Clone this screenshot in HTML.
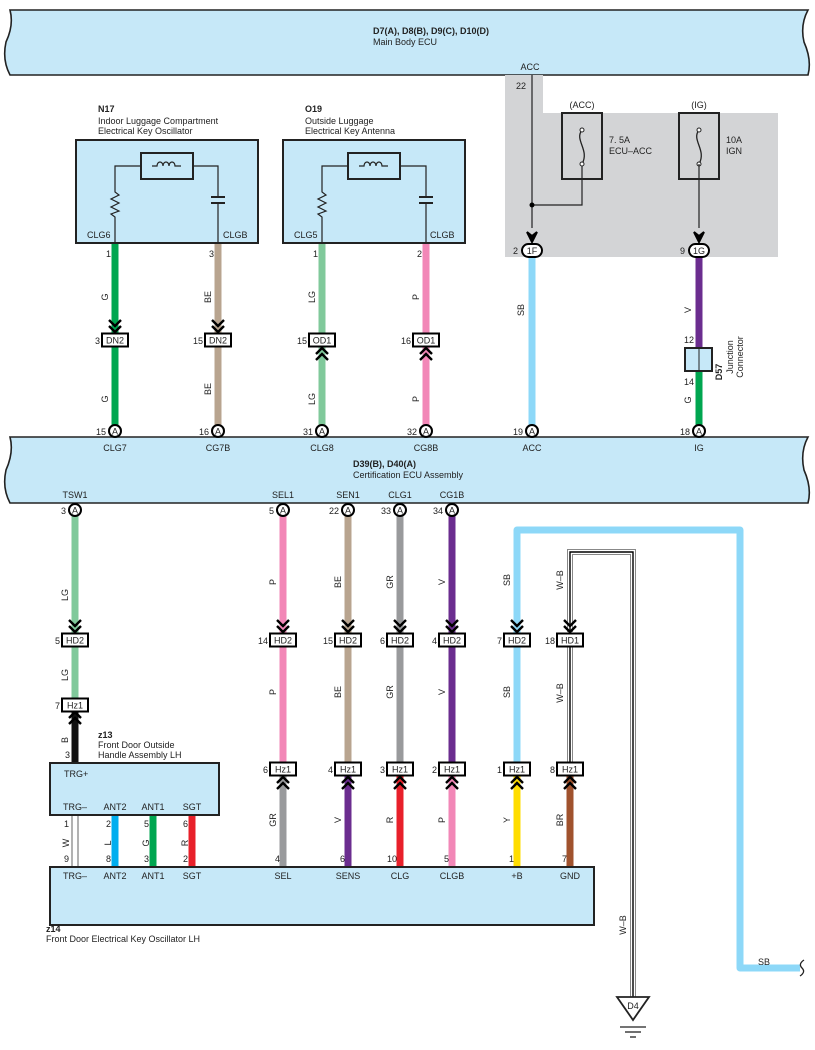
<!DOCTYPE html>
<html><head><meta charset="utf-8"><style>
html,body{margin:0;padding:0;background:#fff}
svg{display:block}
text{font-family:"Liberation Sans",sans-serif;font-size:9px;fill:#222}
.b{font-weight:bold}
.m{text-anchor:middle}
.e{text-anchor:end}
</style></head><body>
<svg width="815" height="1050" viewBox="0 0 815 1050" xmlns="http://www.w3.org/2000/svg">
<defs>
<g id="cd"><polyline points="-6,-13 0,-7 6,-13" fill="none" stroke="#000" stroke-width="2.4"/><polyline points="-6,-7 0,-1 6,-7" fill="none" stroke="#000" stroke-width="2.4"/></g>
<g id="cu"><polyline points="-6,13 0,7 6,13" fill="none" stroke="#000" stroke-width="2.4"/><polyline points="-6,7 0,1 6,7" fill="none" stroke="#000" stroke-width="2.4"/></g>
<g id="ca"><circle r="6" fill="#fff" stroke="#000" stroke-width="2"/></g>
<g id="bx"><rect x="-13" y="-6.5" width="26" height="13" fill="#fff" stroke="#000" stroke-width="2"/></g>
</defs>

<!-- top bus -->
<path d="M10,10 L808,10 Q800,25 804,42 Q812,60 808,75 L10,75 Q2,60 6,42 Q14,25 10,10 Z" fill="#c6e8f8" stroke="#222" stroke-width="1.6"/>
<text x="373" y="34" class="b">D7(A), D8(B), D9(C), D10(D)</text>
<text x="373" y="45">Main Body ECU</text>
<text x="530" y="70" class="m">ACC</text>

<!-- gray area -->
<path d="M505,75 L543,75 L543,113 L778,113 L778,257 L505,257 Z" fill="#d3d4d6"/>
<text x="526" y="89" class="e">22</text>
<polyline points="532,75 532,228" fill="none" stroke="#222" stroke-width="1.2"/>
<polyline points="532,205 582,205 582,165" fill="none" stroke="#222" stroke-width="1.2"/>
<circle cx="532" cy="205" r="2.5" fill="#000"/>
<path d="M527,232 L532,242 L537,232 L532,236 Z" fill="#000" stroke="#000" stroke-width="2"/>
<rect x="562" y="113" width="40" height="66" fill="none" stroke="#222" stroke-width="2"/>
<path d="M582,130 C574,140 590,150 582,164" fill="none" stroke="#222" stroke-width="1.3"/>
<circle cx="582" cy="130" r="2" fill="#fff" stroke="#222"/><circle cx="582" cy="164" r="2" fill="#fff" stroke="#222"/>
<text x="582" y="108" class="m">(ACC)</text>
<text x="609" y="143">7. 5A</text><text x="609" y="154">ECU–ACC</text>
<rect x="679" y="113" width="40" height="66" fill="none" stroke="#222" stroke-width="2"/>
<path d="M699,130 C691,140 707,150 699,164" fill="none" stroke="#222" stroke-width="1.3"/>
<circle cx="699" cy="130" r="2" fill="#fff" stroke="#222"/><circle cx="699" cy="164" r="2" fill="#fff" stroke="#222"/>
<polyline points="699,164 699,228" fill="none" stroke="#222" stroke-width="1.2"/>
<path d="M694,232 L699,242 L704,232 L699,236 Z" fill="#000" stroke="#000" stroke-width="2"/>
<text x="699" y="108" class="m">(IG)</text>
<text x="726" y="143">10A</text><text x="726" y="154">IGN</text>
<!-- 1F/1G connectors -->
<line x1="532" y1="257" x2="532" y2="428" stroke="#8dd8f8" stroke-width="7"/>
<line x1="699" y1="257" x2="699" y2="350" stroke="#6b2d8f" stroke-width="7"/>
<line x1="699" y1="370" x2="699" y2="428" stroke="#00a650" stroke-width="7"/>
<rect x="522" y="244" width="20" height="13" rx="6.5" fill="#fff" stroke="#000" stroke-width="2"/>
<text x="532" y="254" class="m">1F</text><text x="518" y="254" class="e">2</text>
<rect x="689" y="244" width="20" height="13" rx="6.5" fill="#fff" stroke="#000" stroke-width="2"/>
<text x="699" y="254" class="m">1G</text><text x="685" y="254" class="e">9</text>
<text transform="translate(524,310) rotate(-90)" class="m">SB</text>
<text transform="translate(691,310) rotate(-90)" class="m">V</text>
<text x="694" y="343" class="e">12</text>
<rect x="685" y="348" width="27" height="23" fill="#c6e8f8" stroke="#222" stroke-width="2"/>
<line x1="699" y1="348" x2="699" y2="371" stroke="#222"/>
<text x="694" y="385" class="e">14</text>
<text transform="translate(691,400) rotate(-90)" class="m">G</text>
<text transform="translate(722,372) rotate(-90)" class="m b">D57</text>
<text transform="translate(733,357) rotate(-90)" class="m">Junction</text>
<text transform="translate(743,357) rotate(-90)" class="m">Connector</text>

<!-- N17 -->
<text x="98" y="112" class="b">N17</text>
<text x="98" y="124">Indoor Luggage Compartment</text>
<text x="98" y="134">Electrical Key Oscillator</text>
<rect x="76" y="140" width="182" height="103" fill="#c6e8f8" stroke="#222" stroke-width="2"/>
<rect x="141" y="153" width="52" height="26" fill="none" stroke="#222" stroke-width="2"/>
<path d="M152,166 h5 a3,4 0 1 1 6,0 a3,4 0 1 1 6,0 a3,4 0 1 1 6,0 h6" fill="none" stroke="#222" stroke-width="1.2"/>
<polyline points="141,166 115,166 115,192 119,195 111,199 119,203 111,207 119,211 111,214 115,217 115,243" fill="none" stroke="#222" stroke-width="1.2"/>
<polyline points="193,166 218,166 218,197" fill="none" stroke="#222" stroke-width="1.2"/>
<line x1="211" y1="197" x2="225" y2="197" stroke="#222" stroke-width="2"/><line x1="211" y1="203" x2="225" y2="203" stroke="#222" stroke-width="2"/>
<line x1="218" y1="203" x2="218" y2="243" stroke="#222" stroke-width="1.2"/>
<text x="87" y="238">CLG6</text><text x="223" y="238">CLGB</text>
<!-- O19 -->
<text x="305" y="112" class="b">O19</text>
<text x="305" y="124">Outside Luggage</text>
<text x="305" y="134">Electrical Key Antenna</text>
<rect x="283" y="140" width="182" height="103" fill="#c6e8f8" stroke="#222" stroke-width="2"/>
<rect x="348" y="153" width="52" height="26" fill="none" stroke="#222" stroke-width="2"/>
<path d="M359,166 h5 a3,4 0 1 1 6,0 a3,4 0 1 1 6,0 a3,4 0 1 1 6,0 h6" fill="none" stroke="#222" stroke-width="1.2"/>
<polyline points="348,166 322,166 322,192 326,195 318,199 326,203 318,207 326,211 318,214 322,217 322,243" fill="none" stroke="#222" stroke-width="1.2"/>
<polyline points="400,166 426,166 426,197" fill="none" stroke="#222" stroke-width="1.2"/>
<line x1="419" y1="197" x2="433" y2="197" stroke="#222" stroke-width="2"/><line x1="419" y1="203" x2="433" y2="203" stroke="#222" stroke-width="2"/>
<line x1="426" y1="203" x2="426" y2="243" stroke="#222" stroke-width="1.2"/>
<text x="294" y="238">CLG5</text><text x="430" y="238">CLGB</text>

<!-- top wires -->
<line x1="115" y1="244" x2="115" y2="428" stroke="#00a650" stroke-width="7"/>
<line x1="218" y1="244" x2="218" y2="428" stroke="#b8a48f" stroke-width="7"/>
<line x1="322" y1="244" x2="322" y2="428" stroke="#80c99b" stroke-width="7"/>
<line x1="426" y1="244" x2="426" y2="428" stroke="#f287b7" stroke-width="7"/>
<text x="111" y="257" class="e">1</text><text x="214" y="257" class="e">3</text><text x="318" y="257" class="e">1</text><text x="422" y="257" class="e">2</text>
<text transform="translate(108,297) rotate(-90)" class="m">G</text>
<text transform="translate(211,297) rotate(-90)" class="m">BE</text>
<text transform="translate(315,297) rotate(-90)" class="m">LG</text>
<text transform="translate(419,297) rotate(-90)" class="m">P</text>
<text transform="translate(108,399) rotate(-90)" class="m">G</text>
<text transform="translate(211,389) rotate(-90)" class="m">BE</text>
<text transform="translate(315,399) rotate(-90)" class="m">LG</text>
<text transform="translate(419,399) rotate(-90)" class="m">P</text>
<use href="#cd" x="115" y="333"/><use href="#cd" x="218" y="333"/>
<use href="#cu" x="322" y="347"/><use href="#cu" x="426" y="347"/>
<use href="#bx" x="115" y="340"/><text x="115" y="343.5" class="m">DN2</text><text x="100" y="344" class="e">3</text>
<use href="#bx" x="218" y="340"/><text x="218" y="343.5" class="m">DN2</text><text x="203" y="344" class="e">15</text>
<use href="#bx" x="322" y="340"/><text x="322" y="343.5" class="m">OD1</text><text x="307" y="344" class="e">15</text>
<use href="#bx" x="426" y="340"/><text x="426" y="343.5" class="m">OD1</text><text x="411" y="344" class="e">16</text>

<!-- bus 2 -->
<path d="M10,437 L808,437 Q800,452 804,470 Q812,488 808,503 L10,503 Q2,488 6,470 Q14,452 10,437 Z" fill="#c6e8f8" stroke="#222" stroke-width="1.6"/>
<use href="#ca" x="115" y="431"/><text x="115" y="434.5" class="m">A</text><text x="106" y="435" class="e">15</text>
<use href="#ca" x="218" y="431"/><text x="218" y="434.5" class="m">A</text><text x="209" y="435" class="e">16</text>
<use href="#ca" x="322" y="431"/><text x="322" y="434.5" class="m">A</text><text x="313" y="435" class="e">31</text>
<use href="#ca" x="426" y="431"/><text x="426" y="434.5" class="m">A</text><text x="417" y="435" class="e">32</text>
<use href="#ca" x="532" y="431"/><text x="532" y="434.5" class="m">A</text><text x="523" y="435" class="e">19</text>
<use href="#ca" x="699" y="431"/><text x="699" y="434.5" class="m">A</text><text x="690" y="435" class="e">18</text>
<text x="115" y="451" class="m">CLG7</text><text x="218" y="451" class="m">CG7B</text><text x="322" y="451" class="m">CLG8</text><text x="426" y="451" class="m">CG8B</text><text x="532" y="451" class="m">ACC</text><text x="699" y="451" class="m">IG</text>
<text x="353" y="467" class="b">D39(B), D40(A)</text>
<text x="353" y="478">Certification ECU Assembly</text>
<text x="75" y="498" class="m">TSW1</text><text x="283" y="498" class="m">SEL1</text><text x="348" y="498" class="m">SEN1</text><text x="400" y="498" class="m">CLG1</text><text x="452" y="498" class="m">CG1B</text>

<!-- SB loop and W-B -->
<polyline points="517,632 517,530 740,530 740,968 800,968" fill="none" stroke="#8dd8f8" stroke-width="7" stroke-linejoin="round"/>
<path d="M804,960 Q798,964 802,968 Q806,972 800,976" fill="none" stroke="#222" stroke-width="1.3"/>
<text x="764" y="965" class="m">SB</text>
<polyline points="570,632 570,552 633,552 633,997" fill="none" stroke="#888" stroke-width="6"/>
<polyline points="570,632 570,552 633,552 633,997" fill="none" stroke="#fff" stroke-width="4"/>
<polyline points="570,632 570,552 633,552 633,997" fill="none" stroke="#000" stroke-width="1.4"/>
<line x1="570" y1="646" x2="570" y2="762" stroke="#888" stroke-width="6"/>
<line x1="570" y1="646" x2="570" y2="762" stroke="#fff" stroke-width="4"/>
<line x1="570" y1="646" x2="570" y2="762" stroke="#000" stroke-width="1.4"/>
<text transform="translate(563,580) rotate(-90)" class="m">W–B</text>
<text transform="translate(563,693) rotate(-90)" class="m">W–B</text>
<text transform="translate(626,925) rotate(-90)" class="m">W–B</text>
<text transform="translate(510,580) rotate(-90)" class="m">SB</text>
<polygon points="617,997 649,997 633,1020" fill="#fff" stroke="#222" stroke-width="1.8"/>
<text x="633" y="1009" class="m">D4</text>
<line x1="620" y1="1027" x2="646" y2="1027" stroke="#222" stroke-width="1.3"/>
<line x1="625" y1="1032" x2="641" y2="1032" stroke="#222" stroke-width="1.3"/>
<line x1="630" y1="1037" x2="636" y2="1037" stroke="#222" stroke-width="1.3"/>

<!-- lower wires upper segment -->
<line x1="75" y1="516" x2="75" y2="698" stroke="#80c99b" stroke-width="7"/>
<line x1="283" y1="516" x2="283" y2="762" stroke="#f287b7" stroke-width="7"/>
<line x1="348" y1="516" x2="348" y2="762" stroke="#b8a48f" stroke-width="7"/>
<line x1="400" y1="516" x2="400" y2="762" stroke="#999a9c" stroke-width="7"/>
<line x1="452" y1="516" x2="452" y2="762" stroke="#6b2d8f" stroke-width="7"/>
<line x1="517" y1="632" x2="517" y2="762" stroke="#8dd8f8" stroke-width="7"/>
<line x1="75" y1="710" x2="75" y2="763" stroke="#111" stroke-width="7"/>
<use href="#ca" x="75" y="510"/><text x="75" y="513.5" class="m">A</text><text x="66" y="514" class="e">3</text>
<use href="#ca" x="283" y="510"/><text x="283" y="513.5" class="m">A</text><text x="274" y="514" class="e">5</text>
<use href="#ca" x="348" y="510"/><text x="348" y="513.5" class="m">A</text><text x="339" y="514" class="e">22</text>
<use href="#ca" x="400" y="510"/><text x="400" y="513.5" class="m">A</text><text x="391" y="514" class="e">33</text>
<use href="#ca" x="452" y="510"/><text x="452" y="513.5" class="m">A</text><text x="443" y="514" class="e">34</text>
<text transform="translate(68,595) rotate(-90)" class="m">LG</text>
<text transform="translate(276,582) rotate(-90)" class="m">P</text>
<text transform="translate(341,582) rotate(-90)" class="m">BE</text>
<text transform="translate(393,582) rotate(-90)" class="m">GR</text>
<text transform="translate(445,582) rotate(-90)" class="m">V</text>
<text transform="translate(68,675) rotate(-90)" class="m">LG</text>
<text transform="translate(276,692) rotate(-90)" class="m">P</text>
<text transform="translate(341,692) rotate(-90)" class="m">BE</text>
<text transform="translate(393,692) rotate(-90)" class="m">GR</text>
<text transform="translate(445,692) rotate(-90)" class="m">V</text>
<text transform="translate(510,692) rotate(-90)" class="m">SB</text>
<text transform="translate(68,740) rotate(-90)" class="m">B</text>
<text x="70" y="758" class="e">3</text>
<!-- HD connectors -->
<use href="#cd" x="75" y="633"/><use href="#cd" x="283" y="633"/><use href="#cd" x="348" y="633"/><use href="#cd" x="400" y="633"/><use href="#cd" x="452" y="633"/><use href="#cd" x="517" y="633"/><use href="#cd" x="570" y="633"/>
<use href="#bx" x="75" y="640"/><text x="75" y="643.5" class="m">HD2</text><text x="60" y="644" class="e">5</text>
<use href="#bx" x="283" y="640"/><text x="283" y="643.5" class="m">HD2</text><text x="268" y="644" class="e">14</text>
<use href="#bx" x="348" y="640"/><text x="348" y="643.5" class="m">HD2</text><text x="333" y="644" class="e">15</text>
<use href="#bx" x="400" y="640"/><text x="400" y="643.5" class="m">HD2</text><text x="385" y="644" class="e">6</text>
<use href="#bx" x="452" y="640"/><text x="452" y="643.5" class="m">HD2</text><text x="437" y="644" class="e">4</text>
<use href="#bx" x="517" y="640"/><text x="517" y="643.5" class="m">HD2</text><text x="502" y="644" class="e">7</text>
<use href="#bx" x="570" y="640"/><text x="570" y="643.5" class="m">HD1</text><text x="555" y="644" class="e">18</text>
<!-- lower segment -->
<line x1="283" y1="776" x2="283" y2="867" stroke="#999a9c" stroke-width="7"/>
<line x1="348" y1="776" x2="348" y2="867" stroke="#6b2d8f" stroke-width="7"/>
<line x1="400" y1="776" x2="400" y2="867" stroke="#e8202a" stroke-width="7"/>
<line x1="452" y1="776" x2="452" y2="867" stroke="#f287b7" stroke-width="7"/>
<line x1="517" y1="776" x2="517" y2="867" stroke="#ffdd00" stroke-width="7"/>
<line x1="570" y1="776" x2="570" y2="867" stroke="#a0522d" stroke-width="7"/>
<use href="#cu" x="75" y="711"/><use href="#cu" x="283" y="776"/><use href="#cu" x="348" y="776"/><use href="#cu" x="400" y="776"/><use href="#cu" x="452" y="776"/><use href="#cu" x="517" y="776"/><use href="#cu" x="570" y="776"/>
<use href="#bx" x="75" y="705"/><text x="75" y="708.5" class="m">Hz1</text><text x="60" y="709" class="e">7</text>
<use href="#bx" x="283" y="769"/><text x="283" y="772.5" class="m">Hz1</text><text x="268" y="773" class="e">6</text>
<use href="#bx" x="348" y="769"/><text x="348" y="772.5" class="m">Hz1</text><text x="333" y="773" class="e">4</text>
<use href="#bx" x="400" y="769"/><text x="400" y="772.5" class="m">Hz1</text><text x="385" y="773" class="e">3</text>
<use href="#bx" x="452" y="769"/><text x="452" y="772.5" class="m">Hz1</text><text x="437" y="773" class="e">2</text>
<use href="#bx" x="517" y="769"/><text x="517" y="772.5" class="m">Hz1</text><text x="502" y="773" class="e">1</text>
<use href="#bx" x="570" y="769"/><text x="570" y="772.5" class="m">Hz1</text><text x="555" y="773" class="e">8</text>
<text transform="translate(276,820) rotate(-90)" class="m">GR</text>
<text transform="translate(341,820) rotate(-90)" class="m">V</text>
<text transform="translate(393,820) rotate(-90)" class="m">R</text>
<text transform="translate(445,820) rotate(-90)" class="m">P</text>
<text transform="translate(510,820) rotate(-90)" class="m">Y</text>
<text transform="translate(563,820) rotate(-90)" class="m">BR</text>
<text x="280" y="862" class="e">4</text><text x="345" y="862" class="e">6</text><text x="397" y="862" class="e">10</text><text x="449" y="862" class="e">5</text><text x="514" y="862" class="e">1</text><text x="567" y="862" class="e">7</text>

<!-- z13 -->
<text x="98" y="738" class="b">z13</text>
<text x="98" y="748">Front Door Outside</text>
<text x="98" y="758">Handle Assembly LH</text>
<rect x="50" y="763" width="169" height="52" fill="#c6e8f8" stroke="#222" stroke-width="2"/>
<text x="64" y="777">TRG+</text>
<text x="75" y="810" class="m">TRG–</text><text x="115" y="810" class="m">ANT2</text><text x="153" y="810" class="m">ANT1</text><text x="192" y="810" class="m">SGT</text>
<line x1="72" y1="816" x2="72" y2="867" stroke="#666" stroke-width="1"/><line x1="78" y1="816" x2="78" y2="867" stroke="#666" stroke-width="1"/>
<line x1="115" y1="816" x2="115" y2="867" stroke="#00aeef" stroke-width="7"/>
<line x1="153" y1="816" x2="153" y2="867" stroke="#00a650" stroke-width="7"/>
<line x1="192" y1="816" x2="192" y2="867" stroke="#e8202a" stroke-width="7"/>
<text x="69" y="827" class="e">1</text><text x="111" y="827" class="e">2</text><text x="149" y="827" class="e">5</text><text x="188" y="827" class="e">6</text>
<text x="69" y="862" class="e">9</text><text x="111" y="862" class="e">8</text><text x="149" y="862" class="e">3</text><text x="188" y="862" class="e">2</text>
<text transform="translate(69,843) rotate(-90)" class="m">W</text>
<text transform="translate(111,843) rotate(-90)" class="m">L</text>
<text transform="translate(149,843) rotate(-90)" class="m">G</text>
<text transform="translate(188,843) rotate(-90)" class="m">R</text>

<!-- z14 -->
<rect x="50" y="867" width="544" height="58" fill="#c6e8f8" stroke="#222" stroke-width="2"/>
<text x="75" y="879" class="m">TRG–</text><text x="115" y="879" class="m">ANT2</text><text x="153" y="879" class="m">ANT1</text><text x="192" y="879" class="m">SGT</text>
<text x="283" y="879" class="m">SEL</text><text x="348" y="879" class="m">SENS</text><text x="400" y="879" class="m">CLG</text><text x="452" y="879" class="m">CLGB</text><text x="517" y="879" class="m">+B</text><text x="570" y="879" class="m">GND</text>
<text x="46" y="932" class="b">z14</text>
<text x="46" y="942">Front Door Electrical Key Oscillator LH</text>
</svg>
</body></html>
